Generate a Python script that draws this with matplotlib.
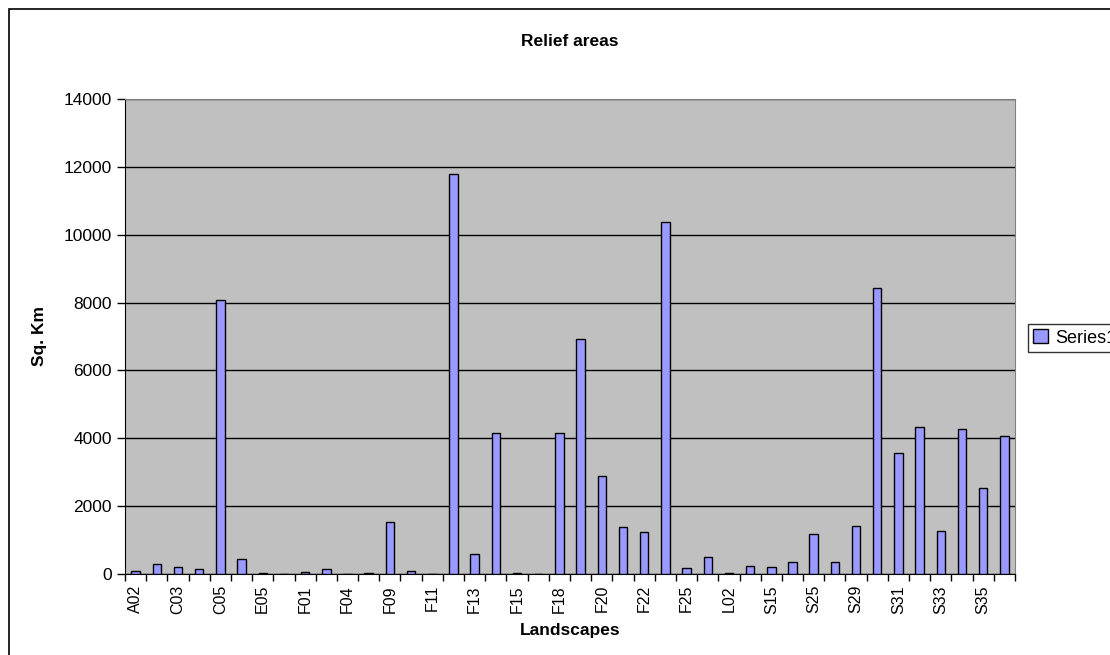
import matplotlib.pyplot as plt
import numpy as np
from matplotlib.patches import Rectangle

plt.rcParams['font.family'] = ['Liberation Sans', 'DejaVu Sans']

landscapes = ["A02", "C01", "C03", "C04", "C05", "E01", "E05", "F00", "F01", "F03",
              "F04", "F08", "F09", "F10", "F11", "F12", "F13", "F14", "F15", "F17",
              "F18", "F19", "F20", "F21", "F22", "F24", "F25", "L01", "L02", "S14",
              "S15", "S24", "S25", "S28", "S29", "S30", "S31", "S32", "S33", "S34",
              "S35", "S36"]
areas = [100, 290, 215, 135, 8070, 430, 30, 0, 60, 135,
         0, 25, 1540, 100, 0, 11800, 580, 4150, 30, 0,
         4150, 6940, 2900, 1390, 1240, 10360, 177, 500, 30, 245,
         215, 354, 1170, 354, 1425, 8440, 3560, 4325, 1277, 4266,
         2537, 4070]

fig = plt.figure(figsize=(11.1, 6.55), dpi=100)
ax = fig.add_axes([125 / 1110, 81 / 655, 890 / 1110, 475 / 655])

# outer chart border (runs off the right and bottom edge)
fig.patches.append(Rectangle((9 / 1110, -0.1), 1.2, 1 - 9 / 655 + 0.1,
                             transform=fig.transFigure, fill=False,
                             edgecolor='black', linewidth=1.2))

x = np.arange(len(landscapes))
ax.set_facecolor('#C0C0C0')
ax.bar(x, areas, width=0.4, color='#9999FF', edgecolor='black',
       linewidth=1, label='Series1', zorder=3)

ax.set_xlim(-0.5, len(landscapes) - 0.5)
ax.set_ylim(0, 14000)
ax.set_yticks(range(0, 14001, 2000))
ax.grid(axis='y', color='black', linewidth=1, zorder=1)
ax.tick_params(axis='y', labelsize=12.5, length=6, width=1, direction='out')

ax.set_xticks(x[::2])
ax.set_xticklabels(landscapes[::2], rotation=90, fontsize=11.5)
ax.set_xticks(np.arange(-0.5, len(landscapes), 1), minor=True)
ax.tick_params(axis='x', which='major', length=0, pad=8)
ax.tick_params(axis='x', which='minor', length=5, width=1, direction='out')

for side in ['top', 'right']:
    ax.spines[side].set_color('#808080')
for side in ['left', 'bottom']:
    ax.spines[side].set_color('black')

ax.set_title('Relief areas', fontsize=12.5, fontweight='bold', pad=38)
ax.set_ylabel('Sq. Km', fontsize=12.5, fontweight='bold', labelpad=12)
ax.set_xlabel('Landscapes', fontsize=12.5, fontweight='bold', labelpad=6)

leg = fig.legend(loc='center left', bbox_to_anchor=(1028 / 1110, 1 - 338 / 655),
                 fontsize=13, frameon=True, fancybox=False, borderpad=0.3,
                 handlelength=0.8, handleheight=0.8, handletextpad=0.4,
                 borderaxespad=0)
leg.get_frame().set_edgecolor('black')
leg.get_frame().set_linewidth(1)

fig.savefig('out.png', dpi=100)
